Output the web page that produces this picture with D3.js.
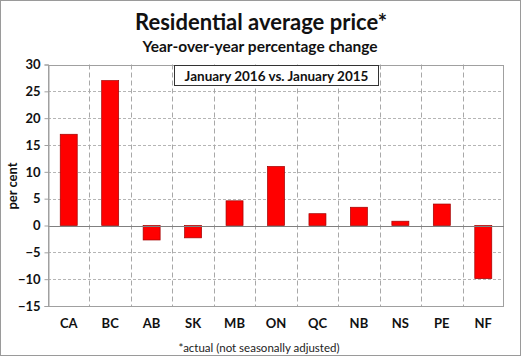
<!DOCTYPE html>
<html><head><meta charset="utf-8">
<script src="https://cdn.jsdelivr.net/npm/d3@7"></script>
<style>body{margin:0;background:#fff}svg{display:block}text{font-family:Lato,"Open Sans",sans-serif}</style>
</head><body><svg id="c" width="521" height="357"></svg>
<script>
const categories = ["CA","BC","AB","SK","MB","ON","QC","NB","NS","PE","NF"];
const values = [17.0, 27.0, -2.7, -2.3, 4.6, 11.0, 2.2, 3.4, 0.8, 4.0, -9.9];
const yTicks = [30,25,20,15,10,5,0,-5,-10,-15];
const title = "Residential average price*";
const subtitle = "Year-over-year percentage change";
const legendText = "January 2016 vs. January 2015";
const footnote = "*actual (not seasonally adjusted)";
const yLabel = "per cent";

const svg = d3.select("#c");
const m = {left:48, right:504, top:64.5, bottom:306};
const x = d3.scaleBand().domain(categories).range([m.left, m.right]).paddingInner(0).paddingOuter(0);
const y = d3.scaleLinear().domain([-15,30]).range([m.bottom, m.top]);

svg.append("rect").attr("x",0.5).attr("y",0.5).attr("width",520).attr("height",355).attr("fill","#fff").attr("stroke","#9a9a9a");

// grid horizontal
svg.append("g").selectAll("line").data(yTicks.filter(d=>d!==0&&d!==30&&d!==-15)).join("line")
  .attr("x1",m.left).attr("x2",m.right).attr("y1",d=>Math.round(y(d))+0.5).attr("y2",d=>Math.round(y(d))+0.5)
  .attr("stroke","#b5b5b5").attr("stroke-dasharray","3,2");
// grid vertical
svg.append("g").selectAll("line").data(categories.slice(1)).join("line")
  .attr("x1",d=>Math.round(x(d))+0.5).attr("x2",d=>Math.round(x(d))+0.5).attr("y1",m.top).attr("y2",m.bottom)
  .attr("stroke","#a8a8a8").attr("stroke-dasharray","5,3");

// plot border
svg.append("rect").attr("x",m.left+0.5).attr("y",Math.round(m.top)+0.5).attr("width",m.right-m.left-1).attr("height",Math.round(m.bottom)-Math.round(m.top))
  .attr("fill","none").attr("stroke","#a0a0a0");

// bars
const bw = x.bandwidth()*0.41;
svg.append("g").selectAll("rect").data(categories).join("rect")
  .attr("x",(d)=>x(d)+x.bandwidth()/2-bw/2)
  .attr("width",bw)
  .attr("y",(d,i)=>y(Math.max(0,values[i])))
  .attr("height",(d,i)=>Math.abs(y(values[i])-y(0)))
  .attr("fill","#ff0000").attr("stroke","#a00000").attr("stroke-width",0.7);

// zero line
svg.append("line").attr("x1",m.left).attr("x2",m.right).attr("y1",Math.round(y(0))+0.5).attr("y2",Math.round(y(0))+0.5).attr("stroke","#808080");

// y axis
const ya = svg.append("g").attr("transform",`translate(${m.left+0.5},0)`)
  .call(d3.axisLeft(y).tickValues(yTicks).tickSize(4).tickPadding(4).tickFormat(d3.format("d")));
ya.select(".domain").attr("stroke","#a0a0a0");
ya.selectAll(".tick line").attr("stroke","#a0a0a0");
ya.selectAll("text").attr("font-size",13).attr("font-weight","bold").attr("fill","#111").style("font-family","Lato,sans-serif");

// x labels
svg.append("g").selectAll("text").data(categories).join("text")
  .attr("x",d=>x(d)+x.bandwidth()/2).attr("y",328).attr("text-anchor","middle")
  .attr("font-size",13).attr("font-weight","bold").attr("fill","#111").text(d=>d);

// y label
svg.append("text").attr("transform","translate(17,186) rotate(-90)").attr("text-anchor","middle")
  .attr("font-size",13).attr("font-weight","bold").attr("fill","#111").text(yLabel);

// titles
svg.append("text").attr("x",261).attr("y",30).attr("text-anchor","middle").attr("font-size",22).attr("font-weight","bold").attr("fill","#111").text(title);
svg.append("text").attr("x",260).attr("y",52).attr("text-anchor","middle").attr("font-size",15.5).attr("font-weight","bold").attr("fill","#111").text(subtitle);

// legend box
svg.append("rect").attr("x",174.5).attr("y",65.5).attr("width",204).attr("height",20).attr("fill","#fff").attr("stroke","#333");
svg.append("text").attr("x",276.5).attr("y",80.5).attr("text-anchor","middle").attr("font-size",13.5).attr("font-weight","bold").attr("fill","#111").text(legendText);

// footnote
svg.append("text").attr("x",259).attr("y",352).attr("text-anchor","middle").attr("font-size",11.5).attr("fill","#222").text(footnote);
</script></body></html>
